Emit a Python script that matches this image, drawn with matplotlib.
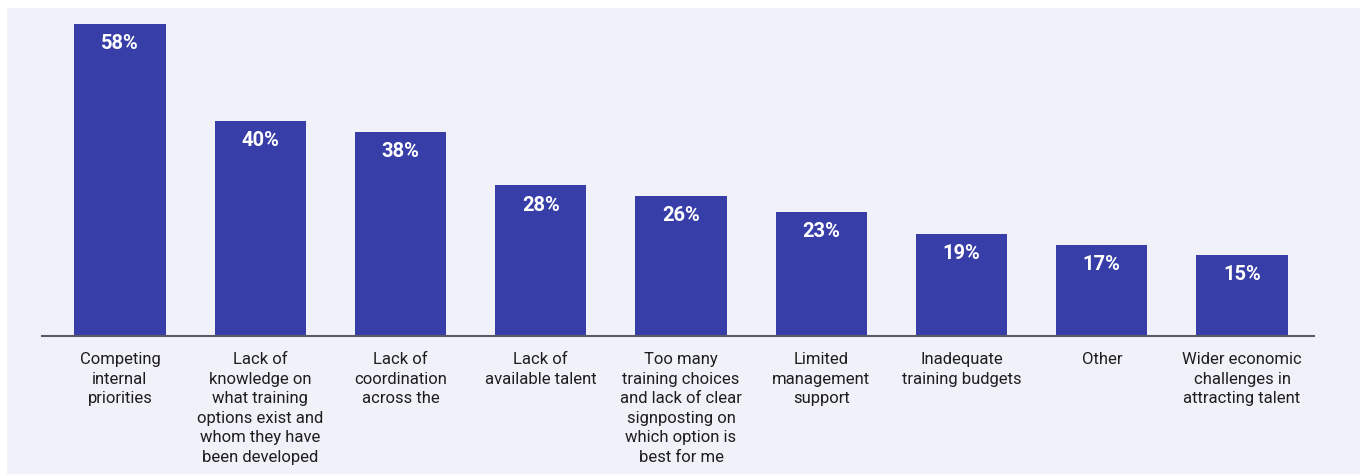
import matplotlib.pyplot as plt
from matplotlib.patches import Rectangle

plt.rcParams['font.family'] = ['Roboto', 'DejaVu Sans']

categories = [
    "Competing\ninternal\npriorities",
    "Lack of\nknowledge on\nwhat training\noptions exist and\nwhom they have\nbeen developed",
    "Lack of\ncoordination\nacross the",
    "Lack of\navailable talent",
    "Too many\ntraining choices\nand lack of clear\nsignposting on\nwhich option is\nbest for me",
    "Limited\nmanagement\nsupport",
    "Inadequate\ntraining budgets",
    "Other",
    "Wider economic\nchallenges in\nattracting talent",
]
values = [58, 40, 38, 28, 26, 23, 19, 17, 15]

bar_color = '#383ea8'
panel_color = '#f0f1f9'

W, H = 1370, 477
fig = plt.figure(figsize=(W / 100, H / 100), dpi=100)
fig.patch.set_facecolor('white')
fig.patches.append(Rectangle((7 / W, 2 / H), 1353 / W, 466 / H,
                             transform=fig.transFigure, facecolor=panel_color,
                             edgecolor='none', zorder=-5))

ax = fig.add_axes([42 / W, (H - 337) / H, 1272 / W, (337 - 25) / H])
ax.set_facecolor('none')

x = list(range(len(values)))
bars = ax.bar(x, values, width=0.65, color=bar_color, zorder=2)
ax.set_xlim(-0.556, 8.513)
ax.set_ylim(0, 58)

# value labels inside the bar tops
for b, v in zip(bars, values):
    ax.text(b.get_x() + b.get_width() / 2, v - 1.7, f"{v}%", ha='center', va='top',
            color='white', fontsize=14.5, fontweight='bold')

for xi, lab in zip(x, categories):
    ax.text(xi, -2.8, lab, ha='center', va='top', fontsize=12,
            color='#1e1e1e', linespacing=1.38)

for s in ['top', 'right', 'left']:
    ax.spines[s].set_visible(False)
ax.spines['bottom'].set_color('#5a5a66')
ax.spines['bottom'].set_linewidth(1.5)
ax.set_xticks([])
ax.set_yticks([])

fig.savefig('out.png', dpi=100, facecolor='white')
